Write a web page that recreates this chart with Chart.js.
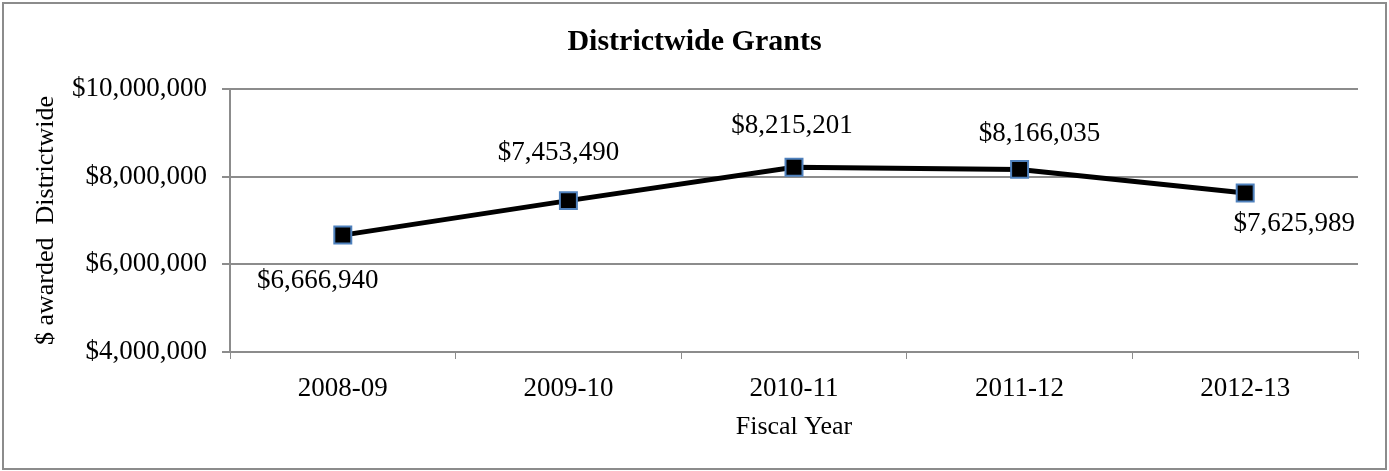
<!DOCTYPE html>
<html>
<head>
<meta charset="utf-8">
<title>Districtwide Grants</title>
<script src="https://cdn.jsdelivr.net/npm/chart.js@4/dist/chart.umd.min.js"></script>
<style>
  html, body { margin: 0; padding: 0; background: #fff; }
  canvas { display: block; }
</style>
</head>
<body>
<canvas id="grantsChart" width="1389" height="471"></canvas>
<script>
// data
const fiscalYears = ['2008-09', '2009-10', '2010-11', '2011-12', '2012-13'];
const grantAmounts = [6666940, 7453490, 8215201, 8166035, 7625989];
const yTickValues = [4000000, 6000000, 8000000, 10000000];

// where each value label sits relative to its point (dx, dy)
const labelOffsets = [[-25, 46], [-10, -48], [-2, -41], [20, -35], [49, 31]];

const serif = '"Liberation Serif", "Times New Roman", serif';
const gridGray = '#8c8c8c';

function money(v) {
  return '$' + Number(v).toLocaleString('en-US');
}

// white background + thin gray frame round the whole chart
const frame = {
  id: 'frame',
  beforeDraw(chart) {
    const c = chart.ctx;
    c.save();
    c.fillStyle = '#fff';
    c.fillRect(0, 0, chart.width, chart.height);
    c.strokeStyle = gridGray;
    c.lineWidth = 2;
    c.strokeRect(3, 3, chart.width - 6, chart.height - 5);
    c.restore();
  }
};

// value labels beside the points
const valueLabels = {
  id: 'valueLabels',
  afterDatasetsDraw(chart) {
    const c = chart.ctx;
    const meta = chart.getDatasetMeta(0);
    c.save();
    c.font = '27px ' + serif;
    c.fillStyle = '#000';
    c.textAlign = 'center';
    c.textBaseline = 'middle';
    meta.data.forEach((pt, i) => {
      const off = labelOffsets[i];
      c.fillText(money(grantAmounts[i]), pt.x + off[0], pt.y + off[1]);
    });
    c.restore();
  }
};

const ctx = document.getElementById('grantsChart').getContext('2d');

const chart = new Chart(ctx, {
  type: 'line',
  data: {
    labels: fiscalYears,
    datasets: [{
      data: grantAmounts,
      borderColor: '#000',
      borderWidth: 5,
      tension: 0,
      pointStyle: 'rect',
      pointRadius: 12,
      pointHoverRadius: 12,
      pointBackgroundColor: '#000',
      pointBorderColor: '#4f81bd',
      pointBorderWidth: 2
    }]
  },
  options: {
    responsive: false,
    animation: false,
    devicePixelRatio: 1,
    layout: { padding: 0 },
    plugins: {
      legend: { display: false },
      tooltip: { enabled: false },
      title: {
        display: true,
        text: 'Districtwide Grants',
        color: '#000',
        font: { family: serif, size: 30, weight: 'bold' },
        padding: { top: 24, bottom: 29 }
      }
    },
    scales: {
      x: {
        offset: true,
        grid: {
          offset: true,
          drawOnChartArea: false,
          drawTicks: true,
          tickLength: 7,
          color: gridGray
        },
        border: { display: true, color: gridGray, width: 2 },
        ticks: {
          color: '#000',
          padding: 14,
          font: { family: serif, size: 27 }
        },
        title: {
          display: true,
          text: 'Fiscal Year',
          color: '#000',
          font: { family: serif, size: 26 },
          padding: { top: 0, bottom: 28 }
        },
        afterFit(scale) { scale.height = 119; }
      },
      y: {
        min: 4000000,
        max: 10000000,
        afterBuildTicks(scale) {
          scale.ticks = yTickValues.map(v => ({ value: v }));
        },
        grid: {
          color: gridGray,
          lineWidth: 2,
          tickLength: 8
        },
        border: { display: true, color: gridGray, width: 2 },
        ticks: {
          color: '#000',
          padding: 15,
          font: { family: serif, size: 27 },
          callback: v => money(v)
        },
        title: {
          display: true,
          text: '$ awarded  Districtwide',
          color: '#000',
          font: { family: serif, size: 26 },
          padding: { top: 31, bottom: 0 }
        },
        afterFit(scale) { scale.width = 230; }
      },
      // empty right-hand margin so the plot ends where the reference does
      spacer: {
        type: 'linear',
        position: 'right',
        display: true,
        grid: { display: false, drawTicks: false },
        border: { display: false },
        ticks: { display: false },
        afterFit(scale) { scale.width = 31; }
      }
    }
  },
  plugins: [frame, valueLabels]
});
</script>
</body>
</html>
